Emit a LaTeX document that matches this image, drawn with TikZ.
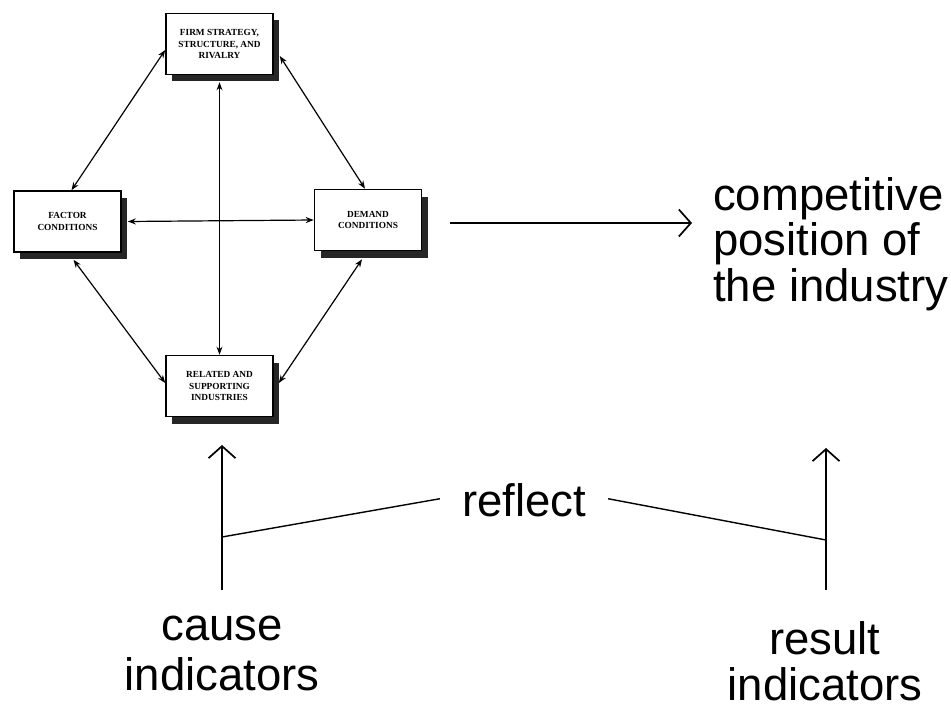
\documentclass[tikz,border=0pt]{standalone}
\usepackage{fontspec}
\setmainfont{Liberation Sans}
\newfontfamily\boxfont{Liberation Serif}
\usetikzlibrary{arrows.meta,shadows}
\begin{document}
\begin{tikzpicture}[x=1pt,y=-1pt,
  boxnode/.style={draw=black, line width=1.6pt, fill=white, minimum width=107pt, minimum height=61pt,
    align=center, inner sep=2pt, font=\boxfont\bfseries\fontsize{9.3}{11.5}\selectfont,
    drop shadow={shadow xshift=6pt, shadow yshift=-7pt, fill=black!85, opacity=1}},
  dbl/.style={line width=1.2pt, {Stealth[length=8pt,width=6pt]}-{Stealth[length=8pt,width=6pt]}},
  bigarrow/.style={line width=1.7pt, -{Straight Barb[length=12pt,width=27pt,line width=1.7pt]}},
  thinline/.style={line width=1.4pt},
  bigtext/.style={font=\fontsize{45.5}{45.5}\selectfont, inner sep=0pt}
]
\useasboundingbox (0,0) rectangle (951,709);

% boxes
\node[boxnode] (firm) at (219.5,44) {FIRM STRATEGY,\\STRUCTURE, AND\\RIVALRY};
\node[boxnode] (factor) at (67.5,221.5) {FACTOR\\CONDITIONS};
\node[boxnode] (demand) at (368,220) {DEMAND\\CONDITIONS};
\node[boxnode] (related) at (219.5,386) {RELATED AND\\SUPPORTING\\INDUSTRIES};

% diamond connectors
\draw[dbl] ([yshift=-6pt]firm.west) -- ([xshift=4pt]factor.north);
\draw[dbl] ([xshift=6pt,yshift=-12pt]firm.east) -- ([xshift=-3pt]demand.north);
\draw[dbl] ([xshift=6pt,yshift=-7pt]factor.south) -- ([yshift=3pt]related.west);
\draw[dbl] ([xshift=-6pt,yshift=-8pt]demand.south) -- ([xshift=5pt,yshift=3pt]related.east);
\draw[dbl] ([yshift=-7pt]firm.south) -- (related.north);
\draw[dbl] ([xshift=6pt]factor.east) -- (demand.west);

% competitive position
\node[bigtext, anchor=west, align=left] (comp) at (713,244) {competitive\\position of\\the industry};
\coordinate (astart) at (450,223);
\coordinate (aend) at (692,223);
\draw[bigarrow] (astart) -- (aend);

% reflect
\node[bigtext, anchor=base] (reflect) at (524,516) {reflect};
\coordinate (cb) at (222,590);
\coordinate (ct) at (222,445);
\coordinate (rb) at (826,590);
\coordinate (rt) at (826,448);
\coordinate (lj) at (222,537);
\coordinate (rj) at (826,540);
\draw[bigarrow] (cb) -- (ct);
\draw[bigarrow] (rb) -- (rt);
\draw[thinline] (lj) -- ([xshift=-22pt,yshift=1pt]reflect.west);
\draw[thinline] ([xshift=22pt,yshift=1pt]reflect.east) -- (rj);

% bottom labels (anchor base = last line)
\node[bigtext, align=center, anchor=base] (cause) at (222,690) {cause\\[4pt]indicators};
\node[bigtext, align=center, anchor=base] (result) at (825,700) {result\\indicators};
\end{tikzpicture}
\end{document}
